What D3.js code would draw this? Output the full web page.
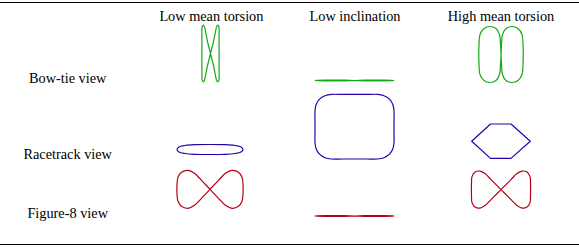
<!DOCTYPE html>
<html>
<head>
<meta charset="utf-8">
<script src="https://cdn.jsdelivr.net/npm/d3@7/dist/d3.min.js"></script>
<style>
  html, body { margin: 0; padding: 0; background: #fff; }
  svg { display: block; }
</style>
</head>
<body>
<svg id="chart" width="579" height="248"></svg>
<script>
// ---------- data ----------
const columnLabels = ["Low mean torsion", "Low inclination", "High mean torsion"];
const rowLabels = ["Bow-tie view", "Racetrack view", "Figure-8 view"];

// Curve outlines (units; 1 unit = 10 px), relative to each curve's centre.
const bowTieLowTorsion = [
  [0,0],[0.3,-1.2],[0.5,-2.2],[0.6,-2.65],[0.72,-2.85],[0.84,-2.65],[0.86,-2.2],[0.86,-1.2],[0.86,1.2],[0.86,2.2],[0.84,2.65],[0.72,2.85],[0.6,2.65],[0.5,2.2],[0.3,1.2],
  [0,0],[-0.3,-1.2],[-0.5,-2.2],[-0.6,-2.65],[-0.72,-2.85],[-0.84,-2.65],[-0.86,-2.2],[-0.86,-1.2],[-0.86,1.2],[-0.86,2.2],[-0.84,2.65],[-0.72,2.85],[-0.6,2.65],[-0.5,2.2],[-0.3,1.2]
];
const bowTieLowInclination = [
  [0,0],[1,-0.03],[2,-0.05],[3,-0.04],[3.7,-0.02],[3.95,0],[3.7,0.02],[3,0.04],[2,0.05],[1,0.03],
  [0,0],[-1,-0.03],[-2,-0.05],[-3,-0.04],[-3.7,-0.02],[-3.95,0],[-3.7,0.02],[-3,0.04],[-2,0.05],[-1,0.03]
];
const bowTieHighTorsion = [
  [0,0],[0.05,-1],[0.15,-2],[0.5,-2.6],[1.1,-2.8],[1.7,-2.6],[2.1,-2],[2.2,-1],[2.2,1],[2.1,2],[1.7,2.6],[1.1,2.8],[0.5,2.6],[0.15,2],[0.05,1],
  [0,0],[-0.05,-1],[-0.15,-2],[-0.5,-2.6],[-1.1,-2.8],[-1.7,-2.6],[-2.1,-2],[-2.2,-1],[-2.2,1],[-2.1,2],[-1.7,2.6],[-1.1,2.8],[-0.5,2.6],[-0.15,2],[-0.05,1]
];
const racetrackLowTorsion = [
  [0,-0.5],[1.5,-0.48],[2.5,-0.4],[3.1,-0.25],[3.3,0],[3.1,0.25],[2.5,0.4],[1.5,0.48],
  [0,0.5],[-1.5,0.48],[-2.5,0.4],[-3.1,0.25],[-3.3,0],[-3.1,-0.25],[-2.5,-0.4],[-1.5,-0.48]
];
const racetrackLowInclination = [
  [0,-3.23],[1.2,-3.23],[2.3,-3.23],[2.95,-3.1],[3.5,-2.75],[3.84,-2.2],[3.95,-1.6],[3.95,-0.6],[3.95,0.6],[3.95,1.6],[3.84,2.2],[3.5,2.75],[2.95,3.1],[2.3,3.23],[1.2,3.23],
  [0,3.23],[-1.2,3.23],[-2.3,3.23],[-2.95,3.1],[-3.5,2.75],[-3.84,2.2],[-3.95,1.6],[-3.95,0.6],[-3.95,-0.6],[-3.95,-1.6],[-3.84,-2.2],[-3.5,-2.75],[-2.95,-3.1],[-2.3,-3.23],[-1.2,-3.23]
];
const racetrackHighTorsion = [
  [-1.05,-1.72],[1.0,-1.72],[2.93,0],[1.0,1.72],[-1.05,1.72],[-2.93,0]
];
const figure8LowTorsion = [
  [0,0],[0.85,-0.9],[1.55,-1.6],[2.2,-1.9],[2.85,-1.7],[3.2,-1.2],[3.3,-0.5],[3.3,0.5],[3.2,1.2],[2.85,1.7],[2.2,1.9],[1.55,1.6],[0.85,0.9],
  [0,0],[-0.85,-0.9],[-1.55,-1.6],[-2.2,-1.9],[-2.85,-1.7],[-3.2,-1.2],[-3.3,-0.5],[-3.3,0.5],[-3.2,1.2],[-2.85,1.7],[-2.2,1.9],[-1.55,1.6],[-0.85,0.9]
];
const figure8LowInclination = [
  [0,0],[1,-0.03],[2,-0.05],[3,-0.04],[3.7,-0.02],[3.95,0],[3.7,0.02],[3,0.04],[2,0.05],[1,0.03],
  [0,0],[-1,-0.03],[-2,-0.05],[-3,-0.04],[-3.7,-0.02],[-3.95,0],[-3.7,0.02],[-3,0.04],[-2,0.05],[-1,0.03]
];
const figure8HighTorsion = [
  [0,0],[1.0,-1.0],[1.6,-1.6],[2.1,-1.85],[2.6,-1.75],[2.9,-1.3],[2.95,-0.6],[2.95,0.6],[2.9,1.3],[2.6,1.75],[2.1,1.85],[1.6,1.6],[1.0,1.0],
  [0,0],[-1.0,-1.0],[-1.6,-1.6],[-2.1,-1.85],[-2.6,-1.75],[-2.9,-1.3],[-2.95,-0.6],[-2.95,0.6],[-2.9,1.3],[-2.6,1.75],[-2.1,1.85],[-1.6,1.6],[-1.0,1.0]
];

// ---------- layout & style ----------
const W = 579, H = 248;
const FONT = "'Liberation Serif', 'Times New Roman', serif";
const FONT_SIZE = 14.3;
const rowColors = ["#16a816", "#2a00a8", "#b40014"];
const headerX = [211.4, 355, 501];
const headerBaseline = 21;
const rowLabelX = 67.7;
const rowLabelBaseline = [82.5, 159, 218.3];
const cells = [
  [{shape: bowTieLowTorsion, cx: 210.5, cy: 53.5, linear: false},
   {shape: bowTieLowInclination, cx: 354.5, cy: 80.5, linear: false},
   {shape: bowTieHighTorsion, cx: 501, cy: 54.5, linear: false}],
  [{shape: racetrackLowTorsion, cx: 210, cy: 149.5, linear: false},
   {shape: racetrackLowInclination, cx: 354.5, cy: 126.7, linear: false},
   {shape: racetrackHighTorsion, cx: 501, cy: 141.2, linear: true}],
  [{shape: figure8LowTorsion, cx: 210, cy: 189.3, linear: false},
   {shape: figure8LowInclination, cx: 354.5, cy: 216, linear: false},
   {shape: figure8HighTorsion, cx: 501, cy: 189.6, linear: false}]
];

const svg = d3.select("#chart");

// rules
svg.append("line").attr("x1", 0).attr("x2", W).attr("y1", 2.5).attr("y2", 2.5)
  .attr("stroke", "#000").attr("stroke-width", 1.2);
svg.append("line").attr("x1", 0).attr("x2", W).attr("y1", 244.5).attr("y2", 244.5)
  .attr("stroke", "#000").attr("stroke-width", 1.2);

// headers
svg.selectAll("text.col").data(columnLabels).join("text")
  .attr("class", "col")
  .attr("x", (d, i) => headerX[i]).attr("y", headerBaseline)
  .attr("text-anchor", "middle")
  .style("font-family", FONT).style("font-size", FONT_SIZE + "px")
  .attr("fill", "#000").text(d => d);

// row labels
svg.selectAll("text.row").data(rowLabels).join("text")
  .attr("class", "row")
  .attr("x", rowLabelX).attr("y", (d, i) => rowLabelBaseline[i])
  .attr("text-anchor", "middle")
  .style("font-family", FONT).style("font-size", FONT_SIZE + "px")
  .attr("fill", "#000").text(d => d);

// curves
cells.forEach((row, r) => {
  row.forEach(cell => {
    const x = d3.scaleLinear().domain([-1, 1]).range([cell.cx - 10, cell.cx + 10]);
    const y = d3.scaleLinear().domain([-1, 1]).range([cell.cy - 10, cell.cy + 10]);
    const line = d3.line().x(d => x(d[0])).y(d => y(d[1]))
      .curve(cell.linear ? d3.curveLinearClosed : d3.curveCatmullRomClosed.alpha(0.5));
    svg.append("path").datum(cell.shape)
      .attr("d", line)
      .attr("fill", "none")
      .attr("stroke", rowColors[r])
      .attr("stroke-width", 1.2)
      .attr("stroke-linejoin", "round");
  });
});
</script>
</body>
</html>
